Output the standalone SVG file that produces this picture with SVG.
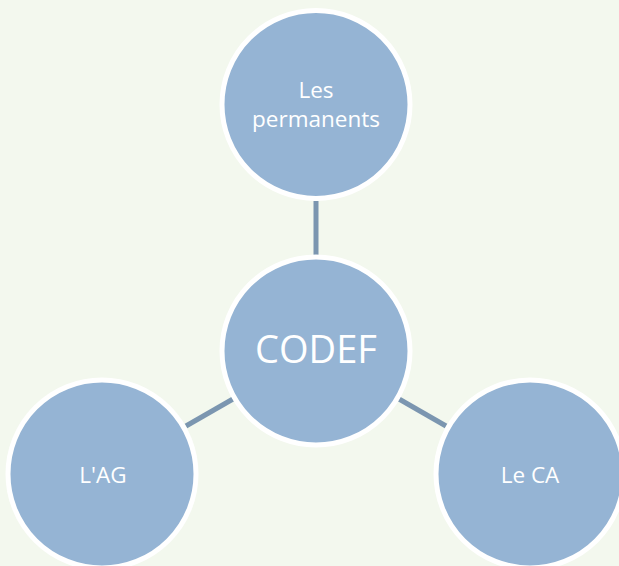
<svg xmlns="http://www.w3.org/2000/svg" width="619" height="566" viewBox="0 0 619 566">
<style>
.node circle{fill:#95b4d4;stroke:#ffffff;stroke-width:5}
.node text{fill:#ffffff;font-family:"Open Sans","Liberation Sans",sans-serif;text-anchor:middle}
.conn line{stroke:#7b96b0;stroke-width:5}
</style>
<rect width="619" height="566" fill="#f3f8ee"/>
<g id="connectors" class="conn">
<line x1="316" y1="201" x2="316" y2="255"/>
<line x1="233" y1="399" x2="186" y2="426"/>
<line x1="399" y1="399" x2="446" y2="426"/>
</g>
<g id="node-permanents" class="node">
<circle cx="316" cy="104.5" r="94"/>
<text x="316" y="98" font-size="22.5">Les</text>
<text x="316" y="127" font-size="22.5">permanents</text>
</g>
<g id="node-codef" class="node">
<circle cx="316" cy="351" r="94"/>
<text x="316" y="363" font-size="38">CODEF</text>
</g>
<g id="node-ag" class="node">
<circle cx="102" cy="474" r="94"/>
<text x="103" y="483" font-size="22.5">L'AG</text>
</g>
<g id="node-ca" class="node">
<circle cx="530" cy="474" r="94"/>
<text x="530" y="483" font-size="22.5">Le CA</text>
</g>
</svg>
